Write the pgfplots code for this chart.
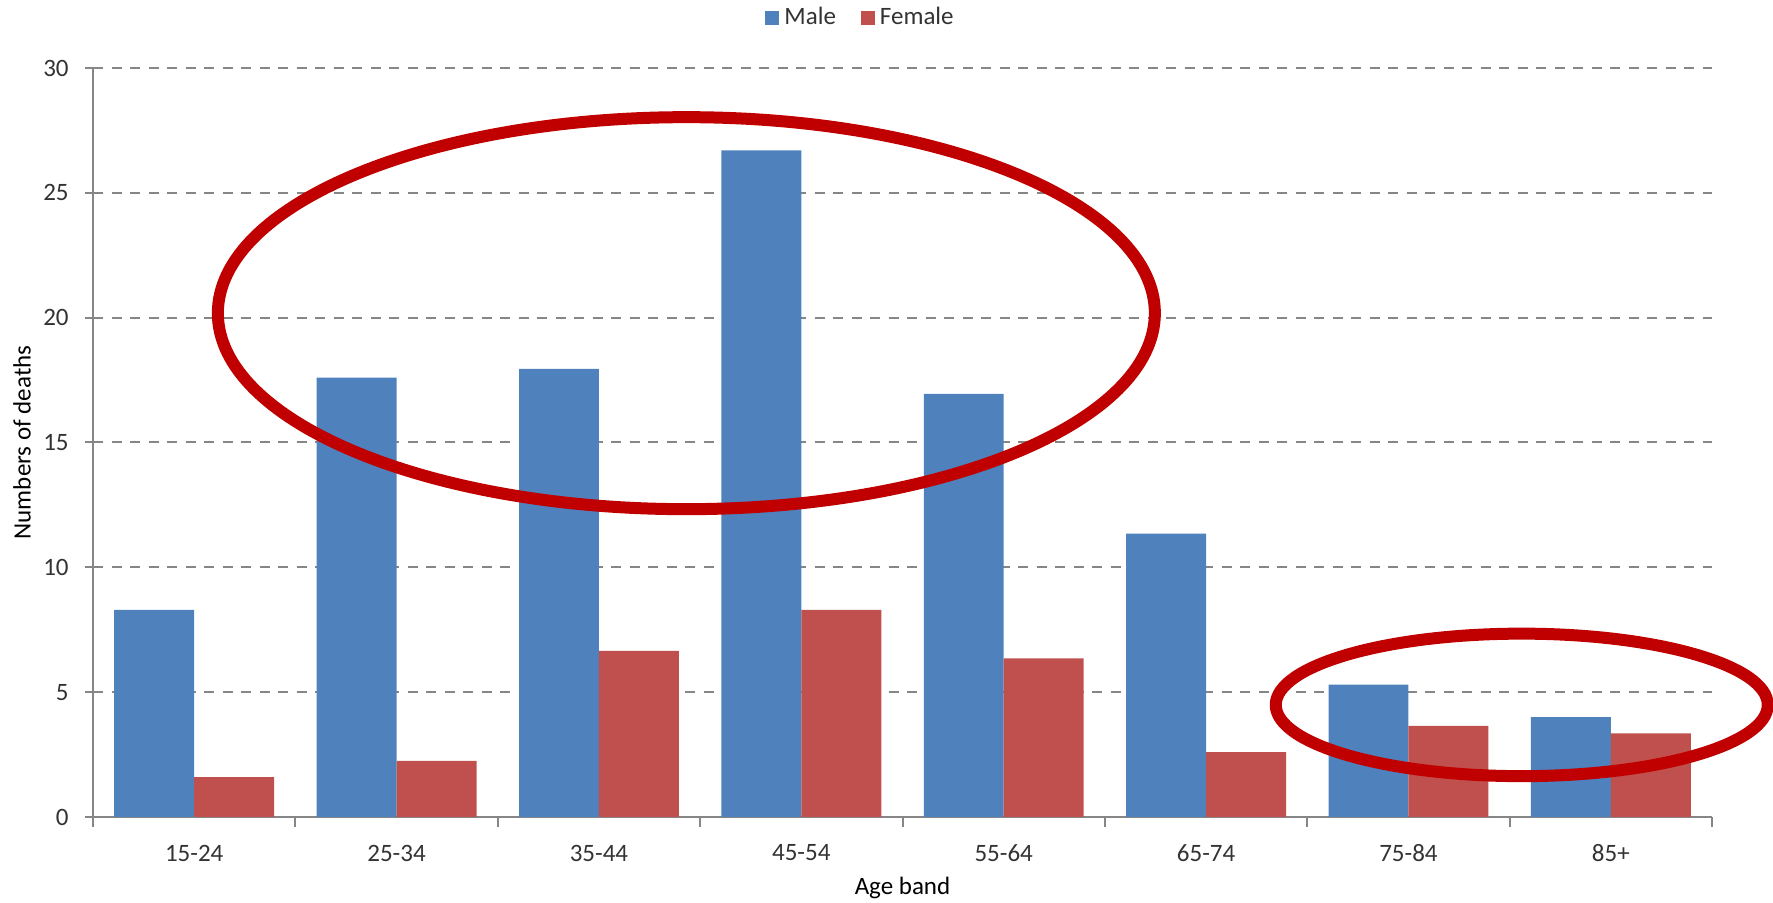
\documentclass[border=0pt]{standalone}
\usepackage{pgfplots}
\pgfplotsset{compat=1.18}
\usepackage{fontspec}
\setmainfont{Carlito}
\definecolor{male}{HTML}{4F81BD}
\definecolor{female}{HTML}{C0504D}
\definecolor{ring}{HTML}{C00000}
\definecolor{axgray}{HTML}{868686}

\begin{document}
\begin{tikzpicture}
\begin{axis}[
  scale only axis,
  width=647.6pt, height=299.6pt,
  ybar=0pt, bar width=0.395,
  legend image code/.code={\fill[#1] (0pt,-2.8pt) rectangle (5.6pt,2.8pt);},
  xmin=-0.5, xmax=7.5, ymin=0, ymax=30,
  xtick={0,...,7},
  xticklabels={15-24,25-34,35-44,45-54,55-64,65-74,75-84,85+},
  minor xtick={-0.5,0.5,...,7.5},
  ytick={0,5,...,30},
  axis x line*=bottom, axis y line*=left,
  axis line style={draw=axgray, line width=0.8pt, -},
  major x tick style={draw=none},
  minor x tick style={draw=axgray, line width=0.8pt},
  major y tick style={draw=axgray, line width=0.8pt},
  xtick align=outside, ytick align=center,
  major tick length=6.4pt, minor tick length=4pt,
  ymajorgrids,
  major grid style={draw=axgray, line width=0.8pt, dash pattern=on 4pt off 3.4pt},
  tick label style={font=\fontsize{10}{12}\selectfont, text=black!80},
  /pgf/number format/assume math mode=true,
  xticklabel style={anchor=center, yshift=-8pt},
  yticklabel style={anchor=east, xshift=-3pt},
  xlabel={Age band}, ylabel={Numbers of deaths},
  label style={font=\fontsize{10}{12}\selectfont, text=black!80},
  every axis x label/.style={at={(axis description cs:0.5,-0.0948)}, anchor=center},
  every axis y label/.style={at={(axis description cs:-0.0439,0.5)}, anchor=center, rotate=90},
  legend columns=-1,
  legend style={draw=none, at={(axis description cs:0.475,1.0668)}, anchor=center,
    font=\fontsize{10}{12}\selectfont, text=black!80,
    /tikz/every even column/.append style={column sep=8pt}},
  clip=false,
]
% Male
\addplot[fill=male, draw=none] coordinates {
  (0,8.3) (1,17.6) (2,17.95) (3,26.7) (4,16.95) (5,11.35) (6,5.3) (7,4.0)
};
\addlegendentry{Male}
% Female
\addplot[fill=female, draw=none] coordinates {
  (0,1.6) (1,2.25) (2,6.65) (3,8.3) (4,6.35) (5,2.6) (6,3.65) (7,3.35)
};
\addlegendentry{Female}

% hand-drawn highlight rings
\draw[ring, line width=4.8pt] (axis cs:2.432,20.18) ellipse [x radius=187.4pt, y radius=78.4pt];
\draw[ring, line width=4.8pt] (axis cs:6.56,4.49) ellipse [x radius=98.4pt, y radius=28.5pt];

\coordinate (O) at (rel axis cs:0,0);
\end{axis}
\pgfresetboundingbox
\path[use as bounding box] (O) ++(-37.2pt,-34.4pt) rectangle ++(709.2pt,361.2pt);
\end{tikzpicture}
\end{document}
